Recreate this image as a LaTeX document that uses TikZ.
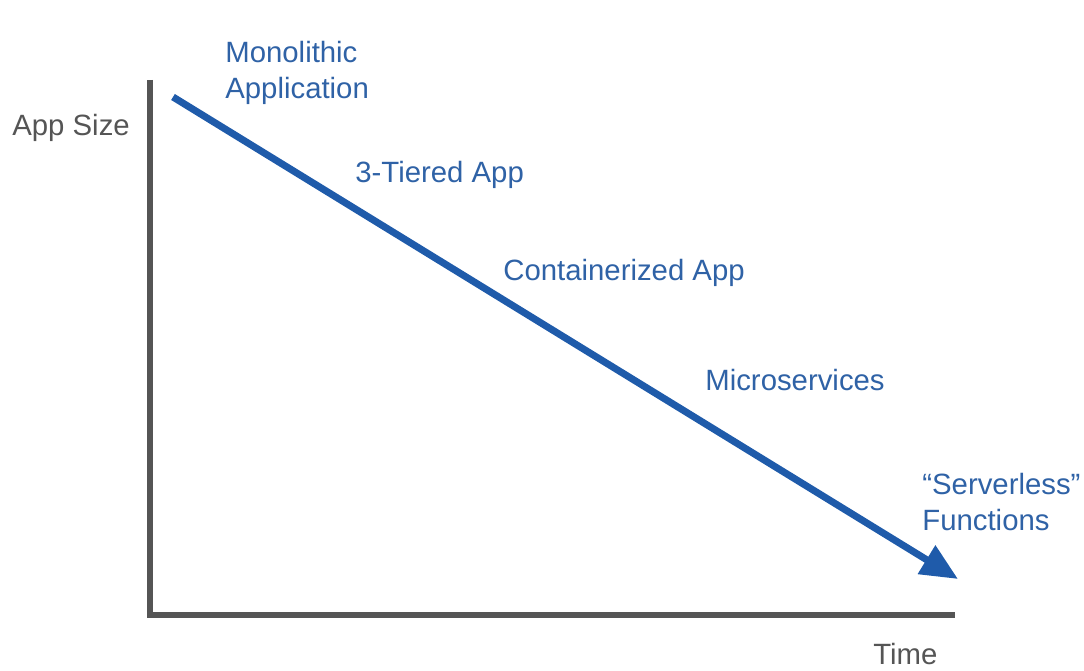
\documentclass[tikz,border=0pt]{standalone}
\usepackage{fontspec}
\setmainfont{Liberation Sans}
\usetikzlibrary{positioning,arrows.meta}

\definecolor{trendblue}{HTML}{1F5BAA}
\definecolor{lblblue}{HTML}{2F62A6}
\definecolor{axisgray}{HTML}{555555}

\begin{document}
\begin{tikzpicture}[x=0.02cm, y=-0.02cm]
\tikzstyle{lbl} = [anchor=west, inner sep=0pt, text=lblblue, font=\fontsize{16.7}{20.5}\selectfont, align=left];
\tikzstyle{axlbl} = [anchor=west, inner sep=0pt, text=axisgray, font=\fontsize{16.7}{20.5}\selectfont];
\tikzstyle{axis} = [axisgray, line width=3.4pt];

\useasboundingbox (0, 0) rectangle (1084, 671);

\coordinate (top) at (150, 80);
\coordinate (origin) at (150, 615);
\coordinate (right) at (955, 615);
\coordinate (start) at (173, 97);
\coordinate (end) at (958, 579);

\draw[axis, line join=miter] (top) -- (origin) -- (right);
\draw[trendblue, line width=4pt, -{Triangle[length=0.74cm, width=0.64cm]}] (start) -- (end);

\node[axlbl] (size) at (12, 128) {App Size};
\node[axlbl] (time) at (873, 654) {Time};

\node[lbl] (mono) at (225, 73) {Monolithic\\Application};
\node[lbl] (tier) at (355, 175) {3-Tiered App};
\node[lbl] (cont) at (503, 273) {Containerized App};
\node[lbl] (micro) at (705, 380) {Microservices};
\node[lbl] (fn) at (922, 502) {``Serverless''\\Functions};
\end{tikzpicture}
\end{document}
